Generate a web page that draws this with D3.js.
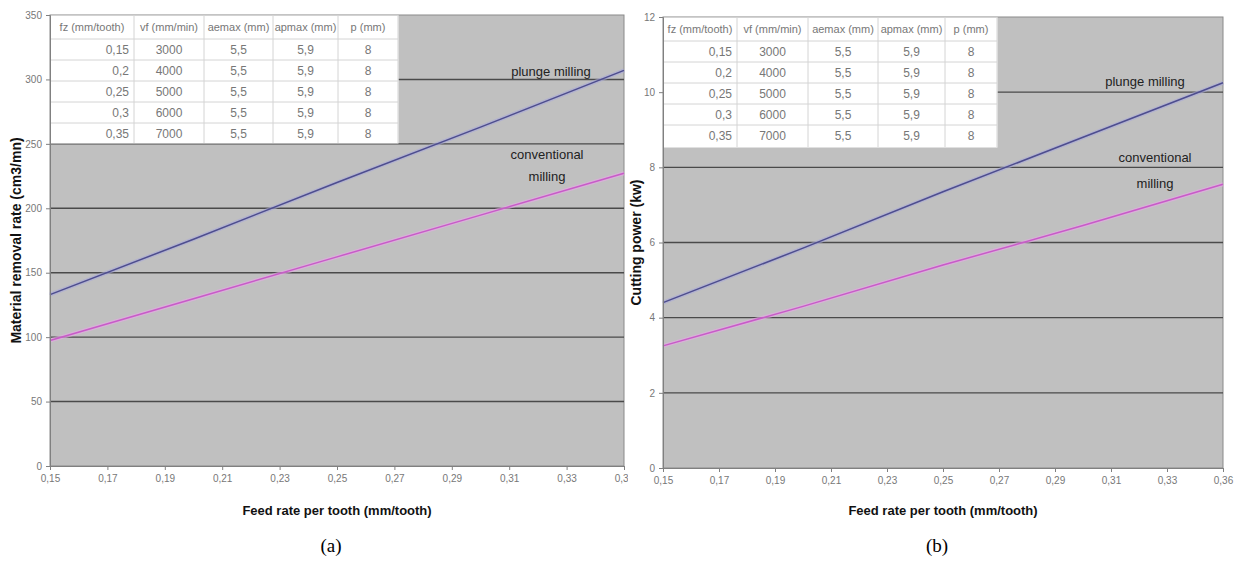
<!DOCTYPE html>
<html>
<head>
<meta charset="utf-8">
<script src="https://cdn.jsdelivr.net/npm/d3@7"></script>
<style>
  body { margin: 0; background: #fff; }
  text { font-family: "Liberation Sans Narrow", "Liberation Sans", Arial, sans-serif; }
</style>
</head>
<body>
<svg id="fig" width="1242" height="569"></svg>
<script>
var feedRate = [0.15, 0.2, 0.25, 0.3, 0.35]
var mrrPlunge = [133, 176, 220, 263, 307]
var mrrConv = [97.4, 129.8, 162.3, 194.7, 227.2]
var powerPlunge = [4.4, 5.85, 7.35, 8.8, 10.25]
var powerConv = [3.25, 4.3, 5.4, 6.45, 7.55]

var xTicks = [0.15, 0.17, 0.19, 0.21, 0.23, 0.25, 0.27, 0.29, 0.31, 0.33, 0.35]
var xLabelsA = ["0,15", "0,17", "0,19", "0,21", "0,23", "0,25", "0,27", "0,29", "0,31", "0,33", "0,35"]
var xLabelsB = ["0,15", "0,17", "0,19", "0,21", "0,23", "0,25", "0,27", "0,29", "0,31", "0,33", "0,36"]
var yTicksA = [0, 50, 100, 150, 200, 250, 300, 350]
var yTicksB = [0, 2, 4, 6, 8, 10, 12]

var tableHead = ["fz (mm/tooth)", "vf (mm/min)", "aemax (mm)", "apmax (mm)", "p (mm)"]
var tableRows = [
    ["0,15", "3000", "5,5", "5,9", "8"],
    ["0,2", "4000", "5,5", "5,9", "8"],
    ["0,25", "5000", "5,5", "5,9", "8"],
    ["0,3", "6000", "5,5", "5,9", "8"],
    ["0,35", "7000", "5,5", "5,9", "8"]
]

var colorPlunge = "#4d4d8e"
var colorConv = "#c85ac8"

var svg = d3.select("#fig")

pintaPanel({
    id: "a", x0: 50, x1: 624, y0: 15, y1: 466, yMax: 350,
    yTicks: yTicksA, xLabels: xLabelsA,
    plunge: mrrPlunge, conv: mrrConv,
    yTitle: "Material removal rate (cm3/mn)", yTitleX: 16,
    cols: [84, 70, 69, 65, 60], tableBottom: 143,
    lblPlunge: [551, 72], lblConv: [547, 155], lblMill: [547, 177],
    clipRight: 628, caption: "(a)"
})

pintaPanel({
    id: "b", x0: 663, x1: 1223, y0: 17, y1: 468, yMax: 12,
    yTicks: yTicksB, xLabels: xLabelsB,
    plunge: powerPlunge, conv: powerConv,
    yTitle: "Cutting power (kw)", yTitleX: 636,
    cols: [74, 71, 70, 67, 52], tableBottom: 147,
    lblPlunge: [1145, 82], lblConv: [1155, 158], lblMill: [1155, 184],
    clipRight: 1242, caption: "(b)"
})

function pintaPanel(c) {
    svg.append("clipPath").attr("id", "clip" + c.id)
        .append("rect").attr("x", c.x0 - 60).attr("y", 0)
        .attr("width", c.clipRight - c.x0 + 60).attr("height", 569)

    var g = svg.append("g").attr("clip-path", "url(#clip" + c.id + ")")

    var x = d3.scaleLinear().domain([0.15, 0.35]).range([c.x0, c.x1])
    var y = d3.scaleLinear().domain([0, c.yMax]).range([c.y1, c.y0])

    // plot background
    g.append("rect")
        .attr("x", c.x0).attr("y", c.y0)
        .attr("width", c.x1 - c.x0).attr("height", c.y1 - c.y0)
        .attr("fill", "#c0c0c0")
        .attr("stroke", "#8a8a8a")

    // gridlines
    g.append("g").selectAll("line")
        .data(c.yTicks.slice(1, -1))
        .enter().append("line")
        .attr("x1", c.x0).attr("x2", c.x1)
        .attr("y1", function (d) { return y(d) })
        .attr("y2", function (d) { return y(d) })
        .attr("stroke", "#4a4a4a")
        .attr("stroke-width", 1.4)

    // table on top of the plot area
    var tx = [c.x0]
    c.cols.forEach(function (w, i) { tx.push(tx[i] + w) })
    var rowsY = [c.y0, c.y0 + 24]
    for (var i = 1; i < tableRows.length; i++) rowsY.push(rowsY[i] + 21)
    rowsY.push(c.tableBottom)

    var tb = g.append("g")
    tb.append("rect")
        .attr("x", c.x0 + 0.5).attr("y", c.y0 + 0.5)
        .attr("width", tx[5] - c.x0).attr("height", c.tableBottom - c.y0)
        .attr("fill", "#fff")
    tb.selectAll(".hl").data(rowsY.slice(1, -1)).enter().append("line")
        .attr("x1", c.x0).attr("x2", tx[5])
        .attr("y1", function (d) { return d }).attr("y2", function (d) { return d })
        .attr("stroke", "#d4d4d4")
    tb.selectAll(".vl").data(tx.slice(1)).enter().append("line")
        .attr("x1", function (d) { return d }).attr("x2", function (d) { return d })
        .attr("y1", c.y0).attr("y2", c.tableBottom)
        .attr("stroke", "#d4d4d4")

    tb.selectAll(".th").data(tableHead).enter().append("text")
        .attr("x", function (d, i) { return (tx[i] + tx[i + 1]) / 2 })
        .attr("y", (rowsY[0] + rowsY[1]) / 2 + 4)
        .attr("text-anchor", "middle")
        .attr("font-size", 11)
        .attr("fill", "#777")
        .text(function (d) { return d })

    tableRows.forEach(function (row, r) {
        tb.selectAll(".td" + r).data(row).enter().append("text")
            .attr("x", function (d, i) { return i == 0 ? tx[1] - 5 : (tx[i] + tx[i + 1]) / 2 })
            .attr("y", rowsY[r + 1] + 15)
            .attr("text-anchor", function (d, i) { return i == 0 ? "end" : "middle" })
            .attr("font-size", 12)
            .attr("fill", "#777")
            .text(function (d) { return d })
    })

    // series
    var line = d3.line()
        .x(function (d, i) { return x(feedRate[i]) })
        .y(function (d) { return y(d) })

    ;[[c.plunge, colorPlunge, "#a8a8d8"], [c.conv, colorConv, "#e6a8e6"]].forEach(function (s) {
        g.append("path").datum(s[0])
            .attr("d", line).attr("fill", "none")
            .attr("stroke", s[2]).attr("stroke-width", 4).attr("opacity", 0.6)
        g.append("path").datum(s[0])
            .attr("d", line).attr("fill", "none")
            .attr("stroke", s[1]).attr("stroke-width", 1.5)
    })

    // series labels
    var lbl = [["plunge milling", c.lblPlunge], ["conventional", c.lblConv], ["milling", c.lblMill]]
    g.selectAll(".lbl").data(lbl).enter().append("text")
        .attr("x", function (d) { return d[1][0] })
        .attr("y", function (d) { return d[1][1] + 4 })
        .attr("text-anchor", "middle")
        .attr("font-size", 13)
        .attr("fill", "#222")
        .text(function (d) { return d[0] })

    // axes
    var ya = g.append("g")
        .attr("transform", "translate(" + c.x0 + ",0)")
        .call(d3.axisLeft(y).tickValues(c.yTicks).tickSize(4).tickPadding(4))
    var xa = g.append("g")
        .attr("transform", "translate(0," + c.y1 + ")")
        .call(d3.axisBottom(x).tickValues(xTicks).tickSize(4).tickPadding(5)
            .tickFormat(function (d, i) { return c.xLabels[i] }))

    ;[ya, xa].forEach(function (a) {
        a.select(".domain").attr("stroke", "#808080")
        a.selectAll(".tick line").attr("stroke", "#808080")
        a.selectAll(".tick text")
            .attr("fill", "#777")
            .attr("font-size", 10)
            .style("font-family", "'Liberation Sans Narrow', 'Liberation Sans', Arial, sans-serif")
    })

    // titles
    g.append("text")
        .attr("transform", "translate(" + c.yTitleX + "," + (c.y0 + c.y1) / 2 + ") rotate(-90)")
        .attr("dy", "0.35em")
        .attr("text-anchor", "middle")
        .attr("font-size", 14)
        .attr("font-weight", "bold")
        .style("font-family", "'Liberation Sans', Arial, sans-serif")
        .attr("fill", "#111")
        .text(c.yTitle)

    g.append("text")
        .attr("x", (c.x0 + c.x1) / 2)
        .attr("y", 515)
        .attr("text-anchor", "middle")
        .attr("font-size", 13)
        .attr("font-weight", "bold")
        .attr("fill", "#111")
        .text("Feed rate per tooth (mm/tooth)")

    svg.append("text")
        .attr("x", (c.x0 + c.x1) / 2 - 6)
        .attr("y", 552)
        .attr("text-anchor", "middle")
        .attr("font-size", 19)
        .style("font-family", "'Liberation Serif', 'Times New Roman', serif")
        .attr("fill", "#000")
        .text(c.caption)
}
</script>
</body>
</html>
